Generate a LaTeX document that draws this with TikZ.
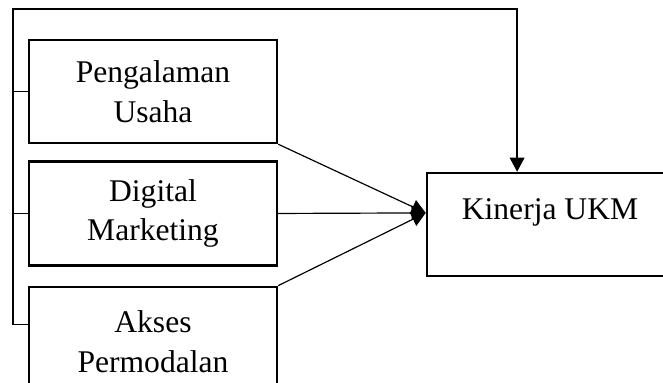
\documentclass[tikz,border=0pt]{standalone}
\usepackage{fontspec}
\setmainfont{Liberation Serif}
\usetikzlibrary{positioning,arrows.meta}

\tikzset{
  varbox/.style={draw, line width=0.95pt, minimum width=94.2pt, align=center,
    font=\fontsize{12pt}{15pt}\selectfont},
  link/.style={line width=0.6pt},
  inlink/.style={line width=0.45pt}
}

\begin{document}
\begin{tikzpicture}[>={Triangle[width=5.6pt,length=5.4pt]}]
\useasboundingbox (0,0) rectangle (251.94pt,-145.16pt);
\node[varbox, minimum height=39.1pt] (pu) at (58.14pt,-34.77pt) {Pengalaman\\Usaha};
\node[varbox, minimum height=39.5pt, below=6.1pt of pu] (dm) {Digital\\Marketing};
\node[varbox, minimum height=41.8pt, below=7.2pt of dm] (am) {Akses\\Permodalan};
\node[varbox, minimum width=93.5pt, minimum height=39.1pt] (ukm) at (209pt,-85.3pt) {};
\node[font=\fontsize{12pt}{15pt}\selectfont] (ukmtext) at ([yshift=4.4pt]ukm.center) {Kinerja UKM};
\coordinate (lft) at (4.94pt,-3.42pt);
\coordinate (meet) at ([yshift=4.4pt]ukm.west);
\coordinate (amtick) at ([yshift=-14.8pt]am.north west);
\draw[link] (pu.west) -- (pu.west -| lft);
\draw[link] (dm.west) -- (dm.west -| lft);
\draw[link,->] (amtick) -- (amtick -| lft) -- (lft) -| ([xshift=-12.5pt]ukm.north);
\draw[inlink,->] (pu.south east) -- (meet);
\draw[inlink,->] (dm.east) -- (meet);
\draw[inlink,->] (am.north east) -- (meet);
\end{tikzpicture}
\end{document}
